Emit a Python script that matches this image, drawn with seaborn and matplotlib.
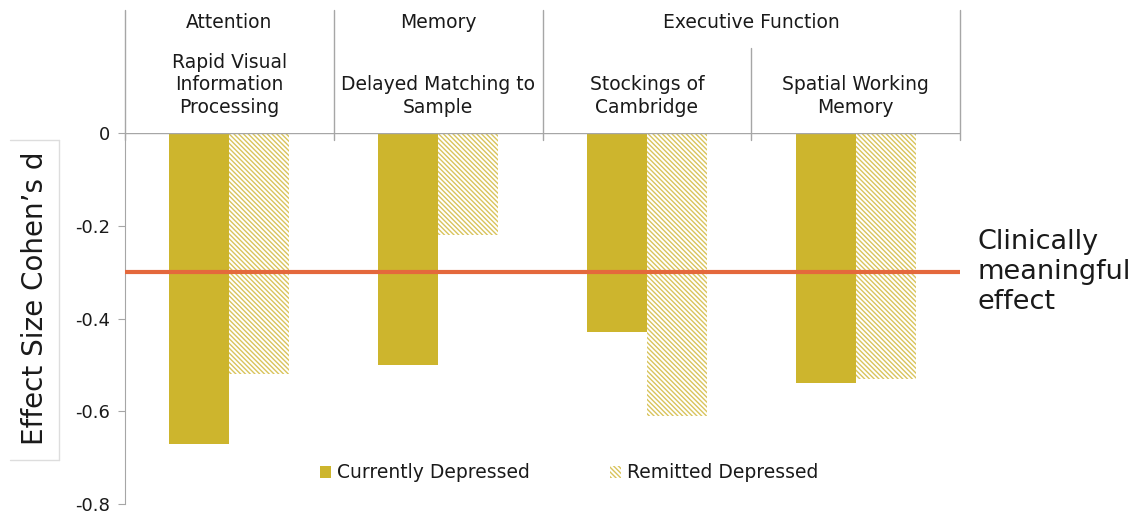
import numpy as np
import pandas as pd
import matplotlib
matplotlib.use("Agg")
import matplotlib.pyplot as plt
from matplotlib.patches import Patch
from matplotlib.lines import Line2D
import seaborn as sns

# data
tests = ['Rapid Visual\nInformation\nProcessing', 'Delayed Matching to\nSample',
         'Stockings of\nCambridge', 'Spatial Working\nMemory']
domains = ['Attention', 'Memory', 'Executive Function']
domain_span = [(0, 0), (1, 1), (2, 3)]
groups = ['Currently Depressed', 'Remitted Depressed']
current = [-0.67, -0.50, -0.43, -0.54]
remitted = [-0.52, -0.22, -0.61, -0.53]
threshold = -0.30
yticks = [0, -0.2, -0.4, -0.6, -0.8]

df = pd.DataFrame({
    'test': tests * 2,
    'group': [groups[0]] * 4 + [groups[1]] * 4,
    'd': current + remitted,
})

sns.set_style('white')
plt.rcParams['font.family'] = ['DejaVu Sans']
plt.rcParams['axes.unicode_minus'] = False
plt.rcParams['hatch.linewidth'] = 1.0

gold = '#CDB52D'
hatch_col = '#D9C45C'
grey = '#A6A6A6'
red = '#E4683C'
txt = '#1a1a1a'
fs = 13.5
hatch = '\\' * 7

fig = plt.figure(figsize=(11.35, 5.13), dpi=100)
ax = fig.add_axes([125 / 1135, 1 - 504 / 513, 835 / 1135, 371 / 513])

sns.barplot(data=df, x='test', y='d', hue='group', order=tests, hue_order=groups,
            palette=[gold, 'white'], width=0.575, gap=0, saturation=1,
            legend=False, ax=ax)

nb = len(tests)
for i, p in enumerate(ax.patches[:2 * nb]):
    p.set_linewidth(0)
    if i >= nb:
        p.set_facecolor('white')
        p.set_edgecolor(hatch_col)
        p.set_hatch(hatch)

ax.set_xlim(-0.5, nb - 0.5)
ax.set_ylim(-0.8, 0)
ax.set_yticks(yticks)
ax.set_yticklabels([f'{v:g}' for v in yticks], fontsize=13, color=txt)
ax.set_xticks([])
ax.set_xlabel('')
ax.set_ylabel('')
ax.tick_params(axis='y', length=5, color=grey, pad=6, left=True)
for s in ['top', 'right', 'bottom']:
    ax.spines[s].set_visible(False)
ax.spines['left'].set_color(grey)

# zero line and threshold
ax.axhline(0, color=grey, lw=1, zorder=3)
ax.axhline(threshold, color=red, lw=3, zorder=4)
ax.text(nb - 0.5 + 0.086, threshold, 'Clinically\nmeaningful\neffect', fontsize=19.5,
        va='center', ha='left', linespacing=1.2, color=txt)

# header: domain / test labels with separators
top = 0.265
bot = -0.015
for k, (a, b) in enumerate(domain_span):
    ax.plot([a - 0.5, a - 0.5], [bot, top], color=grey, lw=1, clip_on=False)
    ax.text((a + b) / 2, 0.239, domains[k], ha='center', va='center', fontsize=fs, color=txt)
ax.plot([nb - 0.5, nb - 0.5], [bot, top], color=grey, lw=1, clip_on=False)
for a, b in domain_span:
    for j in range(a + 1, b + 1):
        ax.plot([j - 0.5, j - 0.5], [bot, 0.183], color=grey, lw=1, clip_on=False)
for i, t in enumerate(tests):
    ax.text(i, 0.034, t, ha='center', va='bottom', fontsize=fs, linespacing=1.25, color=txt)

# y label in a light box
fig.text(35 / 1135, 1 - 298 / 513, 'Effect Size Cohen\u2019s d', rotation=90,
         ha='center', va='center', fontsize=20, color=txt)
bx0, bx1 = 10 / 1135, 59 / 1135
by0, by1 = 1 - 460 / 513, 1 - 140 / 513
for xs, ys in [([bx0, bx1], [by1, by1]), ([bx1, bx1], [by0, by1]), ([bx0, bx1], [by0, by0])]:
    fig.add_artist(Line2D(xs, ys, transform=fig.transFigure, color='#DDDDDD', lw=1))

handles = [Patch(facecolor=gold, edgecolor=gold, lw=0),
           Patch(facecolor='white', edgecolor=hatch_col, hatch=hatch, lw=0)]
fig.legend(handles, groups, loc='center', bbox_to_anchor=(569 / 1135, 1 - 473 / 513),
           ncol=2, frameon=False, fontsize=fs, handlelength=0.6, handleheight=0.6,
           handletextpad=0.3, columnspacing=4.3, labelcolor=txt)

fig.savefig('out.png', dpi=100)
